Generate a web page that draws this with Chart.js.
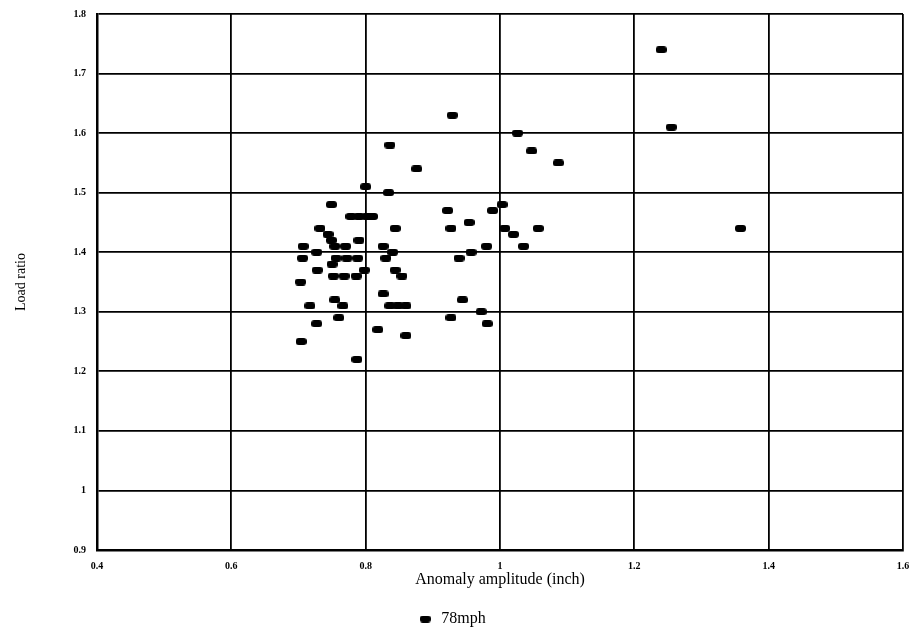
<!DOCTYPE html>
<html>
<head>
<meta charset="utf-8">
<script src="https://cdn.jsdelivr.net/npm/chart.js@4/dist/chart.umd.min.js"></script>
<style>
  html, body { margin: 0; padding: 0; background: #fff; }
  #wrap { width: 914px; height: 643px; }
</style>
</head>
<body>
<div id="wrap"><canvas id="loadChart" width="914" height="643"></canvas></div>
<script>
// anomaly amplitude (inch) and load ratio
const amplitude = [
  1.24, 1.255, 1.358, 0.929, 1.026, 1.047, 1.087, 0.876, 0.836, 0.800,
  0.834, 0.749, 0.778, 0.790, 0.802, 0.810, 0.922, 1.003, 0.989, 0.954,
  0.732, 0.744, 0.749, 0.844, 0.927, 1.007, 1.020, 1.057, 0.790, 0.707,
  0.754, 0.770, 0.826, 0.980, 1.035, 0.727, 0.840, 0.957, 0.706, 0.756,
  0.772, 0.788, 0.830, 0.939, 0.750, 0.728, 0.798, 0.844, 0.752, 0.768,
  0.786, 0.854, 0.703, 0.826, 0.754, 0.944, 0.717, 0.766, 0.836, 0.848,
  0.860, 0.972, 0.760, 0.927, 0.727, 0.981, 0.818, 0.860, 0.704, 0.787
];
const loadRatio = [
  1.74, 1.61, 1.44, 1.63, 1.60, 1.57, 1.55, 1.54, 1.58, 1.51,
  1.50, 1.48, 1.46, 1.46, 1.46, 1.46, 1.47, 1.48, 1.47, 1.45,
  1.44, 1.43, 1.42, 1.44, 1.44, 1.44, 1.43, 1.44, 1.42, 1.41,
  1.41, 1.41, 1.41, 1.41, 1.41, 1.40, 1.40, 1.40, 1.39, 1.39,
  1.39, 1.39, 1.39, 1.39, 1.38, 1.37, 1.37, 1.37, 1.36, 1.36,
  1.36, 1.36, 1.35, 1.33, 1.32, 1.32, 1.31, 1.31, 1.31, 1.31,
  1.31, 1.30, 1.29, 1.29, 1.28, 1.28, 1.27, 1.26, 1.25, 1.22
];
const seriesName = "78mph";

// small rounded black dash used as the marker
function makeMarker(w, h) {
  const c = document.createElement("canvas");
  c.width = w;
  c.height = h;
  const g = c.getContext("2d");
  g.fillStyle = "#000";
  g.beginPath();
  g.roundRect(0, 0, w, h, 3);
  g.fill();
  return c;
}
const marker = makeMarker(11, 7);

let points = [];
for (let i = 0; i < amplitude.length; i++) {
  points.push({ x: amplitude[i], y: loadRatio[i] });
}

const serif = "'Liberation Serif', 'DejaVu Serif', serif";
Chart.defaults.font.family = serif;
Chart.defaults.color = "#000";

const tickText = (v) => String(Number(v.toFixed(1)));

const ctx = document.getElementById("loadChart").getContext("2d");
new Chart(ctx, {
  type: "scatter",
  data: {
    datasets: [
      {
        label: seriesName,
        data: points,
        pointStyle: marker,
        backgroundColor: "#000",
        borderColor: "#000"
      }
    ]
  },
  options: {
    responsive: false,
    animation: false,
    layout: { padding: { top: 14, right: 11, left: 0, bottom: 6 } },
    plugins: {
      tooltip: { enabled: false },
      legend: {
        position: "bottom",
        labels: {
          usePointStyle: true,
          padding: 12,
          font: { family: serif, size: 16 }
        }
      }
    },
    scales: {
      x: {
        type: "linear",
        min: 0.4,
        max: 1.6,
        ticks: {
          stepSize: 0.2,
          padding: 10,
          callback: tickText,
          font: { family: serif, size: 10, weight: "bold" }
        },
        grid: { color: "#000", lineWidth: 1.8, drawTicks: false },
        border: { color: "#000", width: 2.5 },
        title: {
          display: true,
          text: "Anomaly amplitude (inch)",
          font: { family: serif, size: 16 },
          padding: { top: 0, bottom: 10 }
        },
        afterFit: (scale) => {
          scale.height = 49;
          scale.paddingLeft = 0;
          scale.paddingRight = 0;
        }
      },
      y: {
        type: "linear",
        min: 0.9,
        max: 1.8,
        ticks: {
          stepSize: 0.1,
          padding: 11,
          callback: tickText,
          font: { family: serif, size: 10, weight: "bold" }
        },
        grid: { color: "#000", lineWidth: 1.8, drawTicks: false },
        border: { color: "#000", width: 2.5 },
        title: {
          display: true,
          text: "Load ratio",
          font: { family: serif, size: 14 },
          padding: { top: 13, bottom: 0 }
        },
        afterFit: (scale) => {
          scale.width = 97;
          scale.paddingTop = 0;
          scale.paddingBottom = 0;
        }
      }
    }
  }
});
</script>
</body>
</html>
